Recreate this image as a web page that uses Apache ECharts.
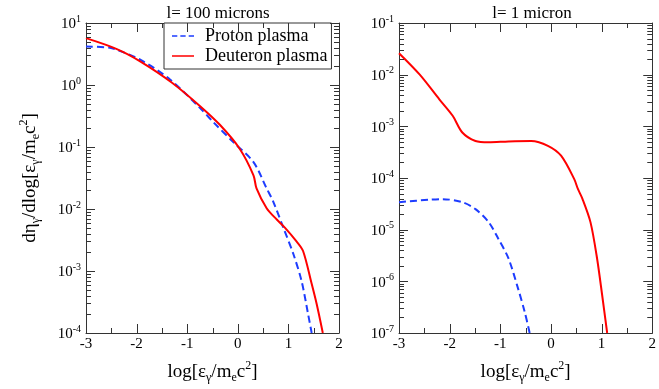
<!DOCTYPE html>
<html>
<head>
<meta charset="utf-8">
<script src="https://cdn.jsdelivr.net/npm/echarts@6/dist/echarts.min.js"></script>
<style>
  html, body { margin: 0; padding: 0; background: #fff; }
  #chart { width: 659px; height: 389px; }
</style>
</head>
<body>
<div id="chart"></div>
<script>
// panel titles
var titles = ['l= 100 microns', 'l= 1 micron'];
var seriesNames = ['Proton plasma', 'Deuteron plasma'];

// l = 100 microns
var leftProtonX = [-3, -2.53, -2.39, -1.93, -1.34, -0.75, -0.48, -0.09, 0.31, 0.57, 0.70, 0.90, 1.10, 1.26, 1.39, 1.46];
var leftProtonY = [4.19, 4.0, 3.7, 2.57, 1.23, 0.43, 0.25, 0.12, 0.057, 0.0215, 0.0132, 0.005, 0.00186, 6.9e-4, 2.0e-4, 1e-4];
var leftDeutX = [-3, -2.39, -1.93, -1.30, -0.75, -0.35, 0.04, 0.31, 0.37, 0.57, 0.77, 0.93, 1.16, 1.29, 1.46, 1.56, 1.68];
var leftDeutY = [5.7, 3.8, 2.41, 1.09, 0.46, 0.226, 0.093, 0.035, 0.0215, 0.0103, 0.00676, 0.0050, 0.0030, 0.0021, 6.2e-4, 2.9e-4, 1e-4];

// l = 1 micron
var rightProtonX = [-3, -2.40, -2.14, -1.75, -1.49, -1.23, -1.04, -0.84, -0.65, -0.52, -0.42];
var rightProtonY = [3.4e-5, 3.8e-5, 3.9e-5, 3.4e-5, 2.5e-5, 1.4e-5, 6.7e-6, 2.8e-6, 7.3e-7, 2.6e-7, 1e-7];
var rightDeutX = [-3, -2.59, -2.20, -1.94, -1.75, -1.49, -1.23, -0.84, -0.39, -0.06, 0.20, 0.46, 0.53, 0.62, 0.78, 0.91, 1.01, 1.11];
var rightDeutY = [0.026, 0.01, 0.0033, 0.0016, 7.6e-4, 5.2e-4, 4.9e-4, 5.1e-4, 5.2e-4, 4.2e-4, 2.7e-4, 9.5e-5, 6.2e-5, 4.0e-5, 1.4e-5, 2.8e-6, 5.5e-7, 1e-7];

// axis ranges
var xRange = [-3, 2];
var leftDecades = [-4, 1];
var rightDecades = [-7, -1];

var FONT = '"Liberation Serif", "DejaVu Serif", serif';

function pairs(xs, ys) {
  return xs.map(function (x, i) { return [x, ys[i]]; });
}

function majorTicks(dec) {
  var out = [];
  for (var d = dec[0]; d <= dec[1]; d++) out.push(Math.pow(10, d));
  return out;
}

function minorTicks(dec) {
  var out = [];
  for (var d = dec[0]; d < dec[1]; d++) {
    for (var k = 2; k <= 9; k++) out.push(k * Math.pow(10, d));
  }
  return out;
}

var xMajor = [], xMinor = [];
for (var v = xRange[0]; v <= xRange[1]; v++) {
  xMajor.push(v);
  if (v < xRange[1]) xMinor.push(v + 0.5);
}

var xName = '{n|log[ε}{s|γ}{n|/m}{s|e}{n|c}{p|2}{n|]}';
var yName = '{n|dη}{s|γ}{n|/dlog[ε}{s|γ}{n|/m}{s|e}{n|c}{p|2}{n|]}';
var nameRich = {
  n: { fontFamily: FONT, fontSize: 19, lineHeight: 24, color: '#000', verticalAlign: 'middle' },
  s: { fontFamily: FONT, fontSize: 12, lineHeight: 10, color: '#000', verticalAlign: 'bottom' },
  p: { fontFamily: FONT, fontSize: 12, lineHeight: 10, color: '#000', verticalAlign: 'top' }
};

function xAxes(gi) {
  return [{
    type: 'value', gridIndex: gi, min: xRange[0], max: xRange[1], interval: 1,
    axisLine: { show: true, onZero: false, lineStyle: { color: '#333' } },
    axisTick: { show: false },
    splitLine: { show: false },
    axisLabel: { fontFamily: FONT, fontSize: 15, color: '#000', margin: 4 },
    name: xName, nameLocation: 'middle', nameGap: 27,
    nameTextStyle: { rich: nameRich }
  }, {
    type: 'value', gridIndex: gi, min: xRange[0], max: xRange[1], interval: 1, position: 'top',
    axisLine: { show: true, onZero: false, lineStyle: { color: '#333' } },
    axisTick: { show: false },
    splitLine: { show: false },
    axisLabel: { show: false }
  }];
}

function yAxes(gi, dec, withName) {
  var min = Math.pow(10, dec[0]), max = Math.pow(10, dec[1]);
  var majors = majorTicks(dec);
  return [{
    type: 'log', gridIndex: gi, min: min, max: max,
    axisLine: { show: true, onZero: false, lineStyle: { color: '#333' } },
    axisTick: { show: false },
    splitLine: { show: false },
    axisLabel: {
      customValues: majors, margin: 5,
      formatter: function (v) {
        return '{b|10}{e|' + Math.round(Math.log10(v)) + '}';
      },
      rich: {
        b: { fontFamily: FONT, fontSize: 15, lineHeight: 18, color: '#000', verticalAlign: 'bottom' },
        e: { fontFamily: FONT, fontSize: 10, lineHeight: 10, color: '#000', verticalAlign: 'top' }
      }
    },
    name: withName ? yName : '',
    nameLocation: 'middle', nameGap: 44, nameRotate: 90,
    nameTextStyle: { rich: nameRich }
  }, {
    type: 'log', gridIndex: gi, min: min, max: max, position: 'right',
    axisLine: { show: true, onZero: false, lineStyle: { color: '#333' } },
    axisTick: { show: false },
    splitLine: { show: false },
    axisLabel: { show: false }
  }];
}

var blueStyle = { color: '#1d3cff', width: 2, type: [7, 4] };
var redStyle = { color: '#ff0000', width: 2 };

var legendIcons = {
  dashed: 'path://M0,0H7V2H0Z M11,0H18V2H11Z M22,0H29V2H22Z',
  solid: 'path://M0,0H29V2H0Z'
};

var chart = echarts.init(document.getElementById('chart'));
chart.setOption({
  backgroundColor: '#fff',
  animation: false,
  title: [
    { text: titles[0], left: 213, top: 0, textAlign: 'center',
      textStyle: { fontFamily: FONT, fontSize: 17, fontWeight: 'normal', color: '#000' } },
    { text: titles[1], left: 527, top: 0, textAlign: 'center',
      textStyle: { fontFamily: FONT, fontSize: 17, fontWeight: 'normal', color: '#000' } }
  ],
  legend: {
    data: [
      { name: seriesNames[0], icon: legendIcons.dashed },
      { name: seriesNames[1], icon: legendIcons.solid }
    ],
    orient: 'vertical',
    left: 164, top: 23,
    padding: [4, 4, 4, 8],
    itemGap: 2,
    itemWidth: 22, itemHeight: 2,
    borderColor: '#333', borderWidth: 1, borderRadius: 0,
    backgroundColor: '#fff',
    textStyle: { fontFamily: FONT, fontSize: 18, color: '#000', padding: [0, 0, 0, 6] }
  },
  grid: [
    { left: 86, right: 320, top: 23, bottom: 53 },
    { left: 399, right: 3, top: 23, bottom: 54 }
  ],
  xAxis: xAxes(0).concat(xAxes(1)),
  yAxis: yAxes(0, leftDecades, true).concat(yAxes(1, rightDecades, false)),
  series: [
    { name: seriesNames[0], type: 'line', xAxisIndex: 0, yAxisIndex: 0, smooth: 0.3,
      symbol: 'none', lineStyle: blueStyle, itemStyle: { color: blueStyle.color },
      data: pairs(leftProtonX, leftProtonY) },
    { name: seriesNames[1], type: 'line', xAxisIndex: 0, yAxisIndex: 0, smooth: 0.3,
      symbol: 'none', lineStyle: redStyle, itemStyle: { color: redStyle.color },
      data: pairs(leftDeutX, leftDeutY) },
    { name: seriesNames[0], type: 'line', xAxisIndex: 2, yAxisIndex: 2, smooth: 0.3,
      symbol: 'none', lineStyle: blueStyle, itemStyle: { color: blueStyle.color },
      data: pairs(rightProtonX, rightProtonY) },
    { name: seriesNames[1], type: 'line', xAxisIndex: 2, yAxisIndex: 2, smooth: 0.3,
      symbol: 'none', lineStyle: redStyle, itemStyle: { color: redStyle.color },
      data: pairs(rightDeutX, rightDeutY) }
  ]
});

// inside tick marks on all four sides, placed through the axes' own scales
function tickMarks(xIdx, yIdx, dec) {
  var px = function (v) { return chart.convertToPixel({ xAxisIndex: xIdx }, v); };
  var py = function (v) { return chart.convertToPixel({ yAxisIndex: yIdx }, v); };
  var left = px(xRange[0]), right = px(xRange[1]);
  var bottom = py(Math.pow(10, dec[0])), top = py(Math.pow(10, dec[1]));
  var out = [];
  function seg(x1, y1, x2, y2) {
    out.push({
      type: 'line', silent: true, z: 50,
      shape: { x1: x1, y1: y1, x2: x2, y2: y2 },
      style: { stroke: '#333', lineWidth: 1 }
    });
  }
  function xt(vals, len) {
    vals.forEach(function (v) {
      var x = Math.round(px(v)) + 0.5;
      seg(x, bottom, x, bottom - len);
      seg(x, top, x, top + len);
    });
  }
  function yt(vals, len) {
    vals.forEach(function (v) {
      var y = Math.round(py(v)) + 0.5;
      seg(left, y, left + len, y);
      seg(right, y, right - len, y);
    });
  }
  xt(xMajor, 9);
  xt(xMinor, 5);
  yt(majorTicks(dec), 9);
  yt(minorTicks(dec), 5);
  return out;
}

chart.setOption({
  graphic: tickMarks(0, 0, leftDecades).concat(tickMarks(2, 2, rightDecades))
});
</script>
</body>
</html>
